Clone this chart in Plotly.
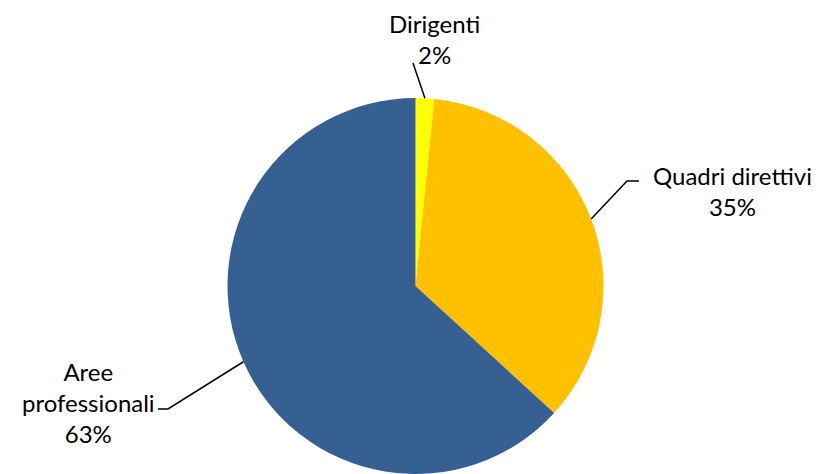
import math
import plotly.graph_objects as go

# ---- data ----
categories = ["Dirigenti", "Quadri direttivi", "Aree professionali"]
values = [1.6, 35.2, 63.2]
label_text = ["Dirigenti<br>2%", "Quadri direttivi<br>35%", "Aree<br>professionali<br>63%"]

# ---- style / layout ----
colors = ["#FFFF00", "#FFC000", "#376092"]
W, H = 820, 474
cx, cy, R = 415.5, 286.0, 188.0
FONT = "Lato, 'Open Sans', sans-serif"
FS = 24

# per-label placement (pixels): leader end / elbow points and label centre
label_style = {
    "Dirigenti": {"pts": [(413, 63)], "pos": (434, 39)},
    "Quadri direttivi": {"pts": [(627, 181), (639, 181)], "pos": (732, 191)},
    "Aree professionali": {"pts": [(168, 409), (158, 409)], "pos": (88, 402)},
}

def px(x):
    return x / W

def py(y):
    return 1 - y / H

fig = go.Figure(go.Pie(
    labels=categories,
    values=values,
    sort=False,
    direction="clockwise",
    rotation=0,
    marker=dict(colors=colors, line=dict(width=0)),
    textinfo="none",
    hoverinfo="skip",
    showlegend=False,
    domain=dict(x=[(cx - R) / W, (cx + R) / W], y=[py(cy + R), py(cy - R)]),
))

shapes = []
annotations = []
total = sum(values)
cum = 0.0
for cat, v, txt in zip(categories, values, label_text):
    mid = (cum + v / 2) / total
    cum += v
    ang = 2 * math.pi * mid
    sx = cx + R * math.sin(ang)
    sy = cy - R * math.cos(ang)
    st = label_style[cat]
    path = f"M {px(sx)},{py(sy)}"
    for (x, y) in st["pts"]:
        path += f" L {px(x)},{py(y)}"
    shapes.append(dict(type="path", xref="paper", yref="paper", path=path,
                       line=dict(color="#000000", width=1.5)))
    lx, ly = st["pos"]
    annotations.append(dict(x=px(lx), y=py(ly), xref="paper", yref="paper",
                            text=txt, showarrow=False, xanchor="center", yanchor="middle",
                            align="center", font=dict(family=FONT, size=FS, color="#000000")))

fig.update_layout(
    width=W, height=H,
    margin=dict(l=0, r=0, t=0, b=0),
    paper_bgcolor="white", plot_bgcolor="white",
    shapes=shapes, annotations=annotations,
)
fig.write_html("out.html", config={"displayModeBar": False},
               post_script="document.body.style.margin='0';")
